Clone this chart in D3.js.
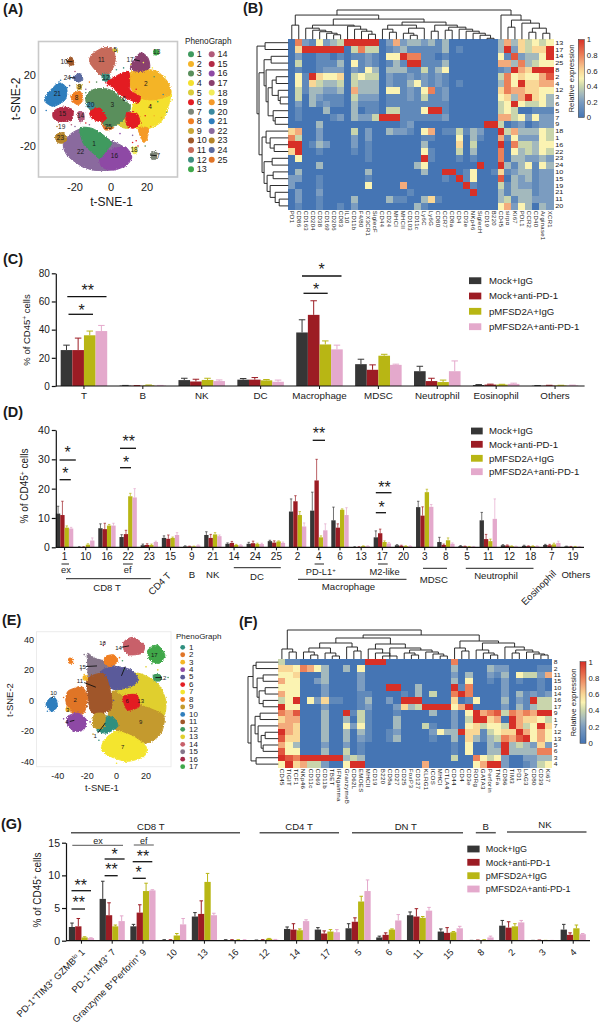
<!DOCTYPE html>
<html>
<head>
<meta charset="utf-8">
<script src="https://cdn.jsdelivr.net/npm/d3@7"></script>
<style>
  html, body { margin: 0; padding: 0; background: #fff; }
  text { font-family: "Liberation Sans", Arial, sans-serif; fill: #1a1a1a; }
  .domain, .tick line { stroke: #111; }
</style>
</head>
<body>
<svg id="fig" width="600" height="1028"></svg>
<script>
var seriesNames = ["Mock+IgG", "Mock+anti-PD-1", "pMFSD2A+IgG", "pMFSD2A+anti-PD-1"];
var seriesColors = ["#363636", "#9c1c24", "#b8b614", "#e4a9cc"];

// panel C
var catsC = ["T", "B", "NK", "DC", "Macrophage", "MDSC", "Neutrophil", "Eosinophil", "Others"];
var valsC = [
  [25.5, 0.3, 4.2, 4.5, 38, 15.5, 10.5, 0.7, 0.2],
  [25.5, 0.2, 3.2, 4.5, 50.5, 11.5, 3.5, 1, 0.3],
  [36, 0.5, 4.3, 4, 29.5, 21.5, 2.8, 1, 0.4],
  [39, 0.3, 3.5, 3, 26, 15, 10.5, 1.5, 0.4]
];
var errC = [
  [29, 0.4, 5.5, 5.3, 47, 19, 14, 1, 0.3],
  [34, 0.3, 4.8, 6, 60.5, 15, 5.5, 1.3, 0.5],
  [39, 0.7, 5.5, 4.6, 32, 22.5, 4.2, 1.2, 0.5],
  [43, 0.4, 4.3, 4.2, 29, 15.5, 17.8, 2, 0.6]
];

// panel D
var catsD = ["1", "10", "16", "22", "23", "15", "9", "21", "14", "24", "25", "2", "4", "6", "13", "17", "20", "3", "8", "5", "11", "12", "18", "7", "19"];
var valsD = [
  [11.5, 0.1, 6.5, 3.5, 0.7, 3.2, 0.3, 4.2, 1.2, 1.2, 2.1, 12.2, 12.5, 9.2, 0.1, 3.4, 0.7, 13.7, 1.8, 0.4, 9.2, 0.7, 0.5, 0.8, 0.3],
  [11, 0.1, 6.2, 4.5, 0.8, 2.9, 0.3, 3.2, 1.5, 1.4, 1.6, 15.7, 22.8, 6.7, 0.1, 4.8, 0.5, 10.8, 0.8, 0.3, 2.8, 0.6, 0.4, 0.7, 0.2],
  [6.7, 0.9, 7.4, 17.4, 0.8, 3.2, 0.3, 4.4, 0.8, 1.1, 2, 11, 3.4, 12.8, 0.4, 1.8, 0.4, 18.8, 2.4, 0.2, 2.1, 0.4, 0.4, 1, 0.2],
  [6.4, 2.3, 7.4, 17, 1.8, 4.2, 0.6, 3.8, 0.7, 1.1, 1.5, 7.1, 5.8, 11, 0.4, 1.3, 0.4, 13.8, 1.2, 0.2, 9.7, 0.3, 0.4, 1.5, 0.2]
];
var errD = [
  [14, 0.2, 8, 4.3, 1.1, 3.9, 0.5, 5.3, 1.5, 1.7, 2.4, 16.5, 18.8, 13.7, 0.2, 5.6, 0.9, 15.7, 3.4, 0.6, 11.9, 0.9, 0.7, 1, 0.4],
  [15.7, 0.2, 8.2, 5.8, 1.2, 4.2, 0.4, 4.4, 2, 2.1, 2.2, 17.6, 30, 8, 0.2, 6.2, 0.7, 13.8, 1.1, 0.4, 4.4, 0.8, 0.5, 1, 0.3],
  [7.3, 1.2, 7.8, 18.4, 1.1, 3.5, 0.4, 5, 1, 1.4, 2.2, 12.2, 3.9, 13.1, 0.5, 2.2, 0.5, 19.8, 3.2, 0.3, 2.8, 0.5, 0.5, 1.4, 0.3],
  [6.8, 3.2, 8.2, 20, 2.1, 5, 0.8, 4.2, 0.9, 1.4, 1.8, 8.3, 8, 13.5, 0.5, 1.6, 0.5, 14.6, 1.5, 0.3, 16.5, 0.4, 0.5, 2.1, 0.3]
];

// panel G
var catsG = ["1", "7", "9", "10", "13", "16", "12", "14", "17", "5", "6", "11", "15", "8", "2", "3", "4"];
var valsG = [
  [2.1, 6.4, 2.2, 0.1, 3.7, 0.1, 0.05, 1.8, 1.7, 1.9, 0.5, 3.9, 1.4, 0.02, 2.3, 0.02, 1.7],
  [2.2, 3.9, 4.3, 0.1, 4.1, 0.1, 0.1, 1.7, 1.1, 2.9, 0.9, 3.7, 1.2, 0.05, 2, 0.05, 0.9],
  [0.5, 2.2, 7.6, 0.8, 9, 0.1, 0.3, 1.6, 1.4, 6, 1.7, 3.5, 1.3, 0.1, 2.2, 0.03, 1.9],
  [0.4, 3, 7.7, 2.5, 3.9, 0.1, 0.15, 3, 1.3, 7.6, 3.1, 4.6, 1.9, 0.5, 2.8, 0.03, 1]
];
var errG = [
  [2.7, 9.1, 2.5, 0.15, 4.3, 0.15, 0.1, 2.1, 2, 2.6, 0.7, 4.4, 1.8, 0.05, 3.1, 0.05, 2.5],
  [3.4, 5.8, 5.5, 0.15, 6.1, 0.15, 0.15, 2.6, 1.5, 3.5, 1.2, 4.9, 2, 0.1, 2.9, 0.1, 1.2],
  [0.6, 2.4, 8.8, 1.1, 10.3, 0.15, 0.35, 1.8, 1.7, 6.8, 1.8, 3.7, 1.4, 0.15, 2.6, 0.05, 2.4],
  [0.45, 3.8, 7.8, 3.4, 4.2, 0.15, 0.2, 3.2, 1.7, 9.3, 4, 5.1, 2.2, 0.7, 3.1, 0.05, 1.1]
];
var longLabelsG = {
  "1": "PD-1<tspan dy='-3' font-size='6'>+</tspan><tspan dy='3'>TIM3</tspan><tspan dy='-3' font-size='6'>+</tspan><tspan dy='3'> GZMB</tspan><tspan dy='-3' font-size='6'>lo</tspan><tspan dy='3'> 1</tspan>",
  "7": "PD-1<tspan dy='-3' font-size='6'>+</tspan><tspan dy='3'>TIM3</tspan><tspan dy='-3' font-size='6'>+</tspan><tspan dy='3'> 7</tspan>",
  "9": "Granzyme B<tspan dy='-3' font-size='6'>+</tspan><tspan dy='3'>Perforin</tspan><tspan dy='-3' font-size='6'>+</tspan><tspan dy='3'> 9</tspan>"
};

// panel B heatmap, tenths of relative expression
var colsB = ["PD1", "CD86", "CD163", "CD204", "CD38", "CD169", "CD206", "CD83", "IL10", "CD11b", "F4/80", "CX3CR1", "SiglecF", "CD44", "CD24", "MHCI", "MHCII", "CD103", "CD11c", "Ly6C", "Ly6G", "CD80", "CCR7", "CD8a", "CD4", "CD3e", "NKp46", "SiglecH", "CD19", "B220", "CD45", "sirpα", "Ki67", "PDL1", "CCR2", "CD40", "Arginase1", "XCR1"];
var rowsB = ["13", "17", "14", "25", "8", "2", "4", "12", "3", "6", "5", "7", "9", "18", "1", "16", "22", "23", "24", "10", "15", "19", "21", "11", "20"];
var heatB = [
  [0,8,2,1,5,2,3,4,10,10,10,10,10,0,2,7,2,3,3,2,3,1,3,0,0,0,0,0,0,0,3,7,3,6,4,5,4,5],
  [0,6,10,10,10,10,10,10,0,4,8,4,4,0,1,2,3,1,1,1,1,1,3,0,1,0,0,0,0,0,3,10,2,6,4,6,6,10],
  [0,2,0,0,1,1,0,1,0,1,1,2,1,0,5,5,10,8,8,1,1,0,1,0,0,0,0,0,0,0,5,1,9,2,3,3,5,10],
  [0,4,0,0,1,1,1,3,0,5,1,2,1,0,1,3,1,10,10,1,1,1,3,0,0,0,0,0,0,0,7,7,3,8,3,4,5,5],
  [0,1,0,0,1,2,2,2,0,2,1,5,3,0,3,3,3,1,1,4,1,3,5,0,0,0,0,0,0,0,1,2,10,7,6,10,10,10],
  [0,5,1,10,6,5,5,6,0,4,5,4,4,0,2,1,1,2,1,2,1,2,1,0,0,0,0,0,0,0,4,8,5,6,5,5,7,9],
  [0,5,1,6,4,3,3,4,0,4,3,3,3,0,2,1,1,3,5,2,1,2,1,0,1,0,0,0,0,0,3,8,5,10,6,6,7,7],
  [0,4,1,3,3,2,2,3,0,7,3,3,3,0,5,5,1,2,1,5,8,1,2,0,0,0,0,0,0,0,6,8,7,7,6,6,5,5],
  [0,4,0,3,2,1,1,1,0,4,2,2,2,0,1,1,1,2,1,4,1,1,2,0,0,0,0,0,0,0,5,6,3,7,10,6,5,3],
  [0,2,0,3,1,2,1,1,0,3,1,1,1,0,1,1,1,1,1,1,1,1,1,0,0,0,0,0,0,0,4,5,10,5,4,4,5,3],
  [0,1,0,0,0,3,0,0,0,3,0,1,1,0,4,4,1,1,1,5,10,10,1,0,0,0,0,0,0,0,4,5,4,0,0,1,1,1],
  [0,1,0,0,0,0,1,2,0,3,2,2,4,10,10,10,1,1,1,1,1,1,2,0,0,0,0,0,0,0,7,7,4,5,2,5,2,2],
  [0,0,0,0,3,0,0,0,0,0,0,0,0,0,0,0,1,2,0,0,0,0,0,0,0,0,0,0,10,10,4,0,1,2,0,1,2,2],
  [6,7,0,0,2,0,0,0,0,4,0,2,0,0,3,2,2,1,0,5,7,0,1,1,4,1,3,2,0,0,10,4,7,3,3,3,5,4],
  [8,4,0,0,2,0,0,0,0,2,0,2,0,0,0,0,0,0,0,1,1,0,0,0,5,0,3,1,0,0,7,1,5,2,2,2,5,4],
  [10,10,0,1,3,2,0,0,0,2,0,1,0,0,0,0,0,0,0,3,0,0,0,0,6,0,4,0,0,0,10,0,8,4,4,3,5,5],
  [6,10,0,0,1,0,0,0,0,1,0,1,0,0,0,0,0,0,0,5,1,0,0,0,4,0,3,0,0,0,8,0,5,3,4,3,5,4],
  [0,5,0,0,0,0,0,0,0,0,0,1,0,0,0,0,0,0,0,10,1,0,0,0,1,0,1,0,0,0,8,0,3,3,2,2,3,2],
  [0,0,0,0,3,0,0,0,0,0,0,0,0,0,0,0,0,0,3,5,0,0,0,0,0,0,0,10,0,0,10,3,1,3,5,1,5,3],
  [0,3,0,0,0,0,0,0,0,0,0,3,0,0,0,0,0,0,0,3,0,0,10,10,0,1,5,0,0,1,6,1,2,3,3,1,2,2],
  [2,2,0,0,1,0,0,0,0,0,0,1,0,0,0,0,0,0,0,0,0,0,1,0,10,1,5,0,0,0,9,0,3,2,3,1,2,2],
  [2,0,0,0,1,0,0,0,0,0,0,5,0,0,0,0,7,0,0,0,0,0,0,0,0,10,1,0,0,0,4,1,3,2,2,1,2,2],
  [0,2,0,0,2,0,0,0,0,0,0,0,0,0,0,0,0,1,0,0,0,0,0,0,0,0,10,0,0,0,3,1,3,3,3,1,2,2],
  [0,2,0,0,1,0,0,0,0,3,0,0,0,0,3,1,1,0,0,3,6,1,0,0,0,0,0,0,0,0,3,4,1,3,3,2,2,2],
  [0,1,0,0,1,0,0,1,0,2,0,0,0,0,0,0,0,0,3,1,0,0,0,0,0,0,0,0,0,0,5,7,2,5,3,0,3,2]
];
// dendrograms: [height, left, right], a number is a leaf index
var treeBTop = [29,
  [24, [14, 0, 1],
    [20,
      [14, [11, 2, [9, 3, [7.5, 4, [6, 5, [4.5, 6, 7]]]]], [13, 8, [10, 9, [8, 10, [5, 11, 12]]]]],
      [17,
        [14, [10, 13, [7, 14, 15]], [11, [6, 16, [4, 17, 18]], 19]],
        [14, [8, 20, 21], [12, [9, 22, 23], [10, 24, [8, 25, [6, 26, [4, 27, [1, 28, 29]]]]]]]]]],
  [24, 30, [19, [12, 31, 32], [16, 33, [11, [7, 34, 35], [6, 36, 37]]]]]];
var treeBLeft = [31, [23, 0, 1],
  [29,
    [24, [17, 2, 3], [22, 4, [20, [16, [12, 5, 6], [10, 7, [8, 8, 9]]], [15, 10, [13, 11, 12]]]]],
    [26, [22, 13, [18, 14, [14, 15, 16]]], [24, [16, 17, 18], [21, [15, 19, 20], [18, 21, [13, 22, [9, 23, 24]]]]]]]];

// panel F heatmap
var colsF = ["CD45", "TIGIT", "TCF1", "NKp46", "CD11c", "CD69", "CD11b", "TBET", "IFNgamma", "GranzymeB", "CD62L", "EMOES", "MHCII", "CD19", "B220", "CD8a", "CD27", "CD25", "FoxP3", "CD127", "KLRG1", "ICOS", "MHCI", "CTLA4", "CD44", "CD4", "CD3e", "RORg", "GATA3", "Perforin", "TNFa", "CD86", "TIM3", "PD1", "LAG3", "CD80", "CD39", "Ki67"];
var rowsF = ["8", "2", "11", "15", "10", "14", "16", "17", "9", "1", "7", "12", "13", "5", "6", "3", "4"];
var heatF = [
  [4,1,1,0,0,0,0,0,0,0,0,0,10,10,10,0,0,0,0,0,0,0,0,0,8,0,0,0,0,0,0,0,0,0,0,0,0,0],
  [6,6,5,8,7,5,3,0,0,3,0,5,0,0,0,0,0,0,0,0,0,0,0,0,3,0,0,0,0,3,2,2,0,0,0,0,1,1],
  [5,5,6,0,0,0,3,0,0,0,0,2,0,0,0,0,0,0,0,0,0,0,0,0,2,0,3,0,0,2,1,3,0,5,4,4,2,7],
  [7,5,5,0,0,2,3,0,0,0,0,2,0,0,0,0,0,0,0,0,0,0,0,0,3,0,5,0,0,1,0,2,0,1,0,0,1,0],
  [5,5,5,0,0,0,2,0,0,0,0,2,0,0,0,10,10,0,0,3,0,0,0,0,10,1,8,0,0,0,0,2,0,0,0,0,1,0],
  [7,5,5,0,0,0,2,0,0,0,0,1,1,0,0,0,0,1,0,3,0,4,0,0,8,10,8,0,0,0,0,2,0,3,1,2,1,2],
  [4,5,10,0,5,2,6,1,1,0,0,1,3,0,0,2,0,10,10,10,0,0,0,0,6,0,1,5,0,0,0,3,0,2,1,10,4,4],
  [10,5,5,0,0,0,2,0,0,0,0,1,2,0,0,0,2,6,3,4,10,10,10,10,5,7,10,0,0,0,0,2,0,3,1,3,4,4],
  [8,7,9,0,0,0,3,0,0,10,1,4,1,0,0,0,1,0,0,0,0,3,0,0,2,0,5,10,7,8,9,4,8,7,8,7,10,10],
  [6,7,7,0,0,0,3,0,0,3,0,4,1,0,0,0,3,0,0,0,0,0,0,0,2,0,4,10,10,6,7,0,10,7,6,6,5,4],
  [7,7,6,0,0,0,3,0,0,5,2,5,1,0,0,0,3,0,0,0,4,1,0,0,2,0,5,6,4,5,5,4,10,7,4,5,10,6],
  [10,7,6,0,0,0,3,0,0,3,0,3,1,0,0,1,2,0,0,0,0,2,5,3,3,10,6,6,1,4,5,6,6,10,7,5,7,5],
  [9,6,6,0,0,0,3,0,0,3,0,2,1,0,0,1,3,0,0,0,0,1,0,0,3,0,6,3,1,3,4,8,7,9,10,5,7,5],
  [7,5,3,0,0,0,2,0,0,2,0,1,0,0,0,0,0,0,0,0,0,0,0,0,1,0,5,0,0,3,2,10,3,4,3,2,6,2],
  [9,5,5,0,0,0,3,0,0,4,0,1,0,0,0,0,0,0,0,0,0,0,0,0,1,0,5,0,0,3,3,10,3,3,3,3,8,8],
  [10,9,8,10,10,10,10,10,10,3,4,3,0,0,0,0,0,0,0,0,0,0,0,0,4,0,0,8,5,4,5,2,0,0,2,2,3,3],
  [5,10,6,7,4,4,2,0,0,5,10,10,0,0,0,0,0,0,0,0,7,0,0,0,0,0,0,5,7,10,10,2,0,0,1,2,4,5]
];
var treeFTop = [29,
  [10, 0, [7, 1, 2]],
  [24,
    [21,
      [16, [11, [7, 3, [4, 4, 5]], [6, 6, [3, 7, 8]]], [12, 9, [8, 10, 11]]],
      [15, [10, 12, [6, 13, [3, 14, 16]]], [11, 15, [9, [6, 17, [4, 18, 19]], [7, 20, [5, 21, [3, 22, 23]]]]]]],
    [18,
      [11, 24, [8, 25, 26]],
      [16, [9, 27, [6, 28, [4, 29, 30]]], [12, 31, [9, [6, 32, 33], [7, 34, [5, 35, [4, 36, 37]]]]]]]]];
var treeFLeft = [30,
  [25, [22, 0, 1], [21, [15, 2, 3], [19, [13, 4, 5], [15, 6, 7]]]],
  [27, [23, [18, 8, 9], [20, 10, [17, [13, 11, 12], [15, 13, 14]]]], [22, 15, 16]]];

// panel A t-SNE
var phenoColorsA = ["#3f9a5f", "#f4b428", "#5a8f5c", "#f4e02e", "#d9cc3a", "#e31e24", "#7d8678", "#f07f22", "#c9a636", "#a0592a", "#c66a5a", "#3e8f80", "#3fa84a", "#b05a7a", "#b22a45", "#8e4aa5", "#8a3f6e", "#f2ec5a", "#f59a28", "#3a8aa0", "#2f7ebd", "#8a6a9e", "#b5842a", "#5a6aa0", "#e07427"];
var ticksA = [-20, 0, 20];
// cluster id, then the outline in t-SNE units
var shapesA = [
  [22, [[-15.4,-10],[-21.9,-12.8],[-26.5,-18.5],[-24.6,-25],[-17.2,-30.8],[-9.8,-33.6],[-0.6,-33.6],[6.9,-30.8],[10.6,-26],[6.9,-20.4],[-0.6,-16.6],[-8,-11.9]]],
  [16, [[-6.1,-26],[-0.6,-22.3],[7.8,-20.4],[11.5,-26],[8.7,-30.8],[1.3,-33.6],[-5.2,-31.7]]],
  [1, [[-17.2,-10],[-10.7,-10],[-4.3,-13.8],[0.4,-18.5],[-2.4,-22.3],[-6.1,-27],[-9.8,-24.2],[-15.4,-18.5]]],
  [25, [[-5.2,-6.2],[-0.6,-7.2],[1.3,-10],[-3.3,-10.9]]],
  [5, [[4,-5],[10,-5],[10,-10],[5,-9]]],
  [4, [[16.1,7],[25.4,7.9],[33.1,11.7],[31.9,2.3],[27.2,-7],[18,-10.9],[12,-8],[12,2.3]]],
  [2, [[9.6,20.2],[16.1,23],[25.4,22.1],[31.9,15.5],[32.8,8.9],[23.5,6],[16.1,7],[11.5,11.7]]],
  [3, [[-13.5,8.9],[-8.9,12.1],[-0.6,11.7],[6.9,6],[10.9,2.3],[8.7,-3.4],[3.1,-8.1],[-2.4,-9.1],[-6.1,-5.3],[-11.7,0.4],[-13.9,5.1]]],
  [6, [[-0.6,17.4],[9.6,22.1],[10.6,11.7],[16.1,7.9],[15.2,4.2],[10.6,6],[5,8.9],[1.3,12.7],[-2.4,15.5]]],
  [6, [[-11.7,-0.6],[-6.1,1.3],[-2.4,-4.3],[-6.1,-6.2],[-10.7,-4.3]]],
  [6, [[8.7,-1.5],[14.3,-1.5],[16.1,-7],[12.4,-10],[8.7,-8.1]]],
  [19, [[15.2,-10],[20.7,-10],[19.8,-16.6],[17.6,-17.6]]],
  [11, [[-10.7,31.5],[-4.3,35.3],[1.3,34.3],[2.2,26.8],[-1.5,20.2],[-6.1,20.2],[-11.7,26.8]]],
  [12, [[-5.2,20.2],[-0.9,20.2],[-0.9,17.4],[-3.9,16.4]]],
  [17, [[10.6,24],[16.1,32.5],[20.5,29.7],[21.4,24],[16.1,22]]],
  [21, [[-35.7,8.9],[-29.2,15.5],[-24.6,12.7],[-25.5,6],[-32,2.3],[-36.7,5.1]]],
  [15, [[-32,-0.6],[-27.4,1.9],[-21.3,0.4],[-21.9,-5.3],[-28.4,-6.2],[-32,-4.3]]],
  [8, [[-22.2,8.9],[-17.2,10.8],[-15.7,6],[-18.1,3.2],[-21.3,5.1]]],
  [14, [[-18.5,-1.1],[-15.4,-0.9],[-15,-5.3],[-17.6,-6.2]]],
  [24, [[-20.9,19.2],[-17.2,20.8],[-15.7,17.4],[-19.1,15.8]]],
  [10, [[-24.1,28.7],[-21.9,30.2],[-20.6,25.8],[-23.7,25.8]]],
  [23, [[-30.6,-13.8],[-26.5,-12.5],[-24.6,-16.6],[-27.4,-18.5],[-30.2,-17.5]]],
  [7, [[22,-24.2],[25,-23.2],[25.7,-27],[22.6,-27.5]]],
  [18, [[11.8,-20.8],[14.3,-20.4],[14.3,-23.8],[12.3,-24.2]]],
  [5, [[1.3,34.7],[3.5,34.3],[3.5,33.2],[1.3,33.4]]],
  [13, [[23.9,34],[26.3,34],[26.3,31.5],[23.9,31.5]]],
  [9, [[-18.7,14.5],[-16.3,14.5],[-16.7,12.1],[-18.7,12.1]]],
  [20, [[-13.1,4.2],[-9.8,4.2],[-9.8,1.3],[-13.1,1.9]]]
];
var specksA = [[-14,10,3],[-20,-9,22],[-12,-8,22],[5,-13,16],[12,-14,22],[14,-17,6],[15,-20,6],[24,-3,2],[28,-4,2],[31,-1,3],[26,5,13],[29,9,20],[22,3,6],[19,-3,6],[24,19,3],[30,19,4],[7,24,12],[11,26,5],[-8,16,3],[-12,16,8],[-14,12,22],[-23,14,24],[-20,22,14],[-28,17,21],[-36,0,21],[-30,-9,23],[-22,-8,14],[-14,-7,6],[18,27,18],[23,24,18],[-2,14,6],[3,23,12],[14,12,6],[34,6,4],[22,-9,19],[19,-20,3],[12,-18,6]];
var labelsA = [["1",-9.4,-18.9],["22",-16.9,-23.4],["16",1.9,-25.5],["3",0.7,3],["2",19.4,14.9],["4",21.7,1.9],["6",7.2,6.8],["11",-5.4,28.9],["12",-2.8,18.7],["5",2.4,34],["17",10.6,28.7],["13",25.4,33],["10",-26.1,27.7],["24",-24.3,18.7],["9",-17.6,13.6],["21",-29.8,9.4],["8",-19.1,7],["20",-11.3,3.2],["15",-27,-1.9],["14",-16.9,-3.2],["25",-1.5,-9.1],["19",-27.4,-9.4],["23",-28.1,-15.5],["18",12.8,-22.3],["7",26.3,-25.5]];
var arrowsA = [[-24.6,27.7,-21.3,27.5],[-23.1,18.7,-19.8,18.3],[12.8,28.7,16.1,27.9],[25.4,-25.5,22,-25.1]];

// panel E t-SNE
var phenoColorsE = ["#2f8f7f", "#e07427", "#f5b625", "#8e4aa5", "#5a5a9a", "#e31e24", "#f4e52e", "#f07f22", "#c49a2d", "#2f7ebd", "#a0562a", "#3f9a5f", "#e0cf2d", "#c8606a", "#85758a", "#a52a4a", "#3fa84a"];
var ticksEx = [-40, -20, 0, 20];
var ticksEy = [-40, -20, 0, 20, 40];
var shapesE = [
  [13, [[-0.5,15.7],[14.9,17.8],[27.7,11.3],[33.3,0.4],[31.5,-10.4],[14.9,-6.1],[9.7,-1.7],[-0.5,2.6]]],
  [9, [[-3,6],[9.7,-0.7],[25.1,-6.1],[32.3,-10.4],[30.3,-21.3],[21.3,-27.8],[9.7,-25.7],[-0.5,-19.1],[-5.6,-12.6]]],
  [7, [[-8.2,-25.7],[-0.5,-20.2],[11,-23.5],[20,-30],[18.7,-36.5],[7.2,-39.8],[-4.4,-36.5],[-10.3,-32.2]]],
  [15, [[-19.7,30.9],[-14.6,27.6],[-3.1,24.3],[0.8,20],[-9.5,17.8],[-14.6,13.5],[-19,15.7],[-19.7,24.3]]],
  [5, [[-9.5,20],[-0.5,22.2],[9.7,20],[14.9,13.5],[9.7,9.1],[-0.5,7],[-8.2,10.2],[-12.1,14.6]]],
  [11, [[-19.7,14.6],[-9.5,17.8],[-5.6,11.3],[-3.1,0.4],[-4.4,-6.1],[-13.3,-9.3],[-17.9,-6.1],[-19.7,4.8]]],
  [1, [[-8.7,-10.4],[-1.8,-11.5],[0.8,-17],[-6.9,-21.3],[-13.3,-19.1]]],
  [9, [[-15,-9],[-8,-9],[-9,-18],[-16,-17]]],
  [2, [[-28.7,8],[-23.6,9.1],[-19.7,2.6],[-22.3,-8.3],[-30,-8.3],[-34.4,-0.7],[-33.3,5.8]]],
  [4, [[-33.3,-10.4],[-26.2,-8.3],[-20.5,-12.6],[-22.3,-19.1],[-28.7,-20.2],[-33.3,-15.9]]],
  [10, [[-45.4,1.5],[-41.5,1.5],[-40.3,-3.9],[-44.1,-7.2],[-47.9,-2.8]]],
  [14, [[5.1,38.5],[11,41.3],[18.7,36.3],[17.4,30.9],[8.5,29.8],[5.1,33]]],
  [17, [[21.3,33],[27.7,36.3],[32.8,29.8],[29,24.3],[22.6,26.5]]],
  [8, [[-7.7,28.7],[-1.8,29.8],[0.8,25.4],[-4.4,22.2],[-8.2,24.3]]],
  [12, [[25.1,16.7],[29.7,16.7],[29.7,13],[25.6,13]]],
  [6, [[4.6,2.6],[13.6,3.7],[15.4,-3.9],[7.2,-6.1]]],
  [3, [[-22.5,16],[-20,16],[-20,13.5],[-22.5,13.5]]],
  [3, [[-34.2,-4.8],[-32,-4.8],[-32,-7],[-34.2,-7]]],
  [8, [[-32.5,27.5],[-30,27.5],[-30,24.5],[-32.5,24.5]]]
];
var specksE = [[-22,30,15],[-24,20,15],[-22,17,3],[-9,36,16],[-8,38,16],[2,28,8],[4,26,12],[5,20,12],[20,22,13],[28,20,13],[24,24,17],[35,15,12],[33,-3,13],[33,-14,9],[25,-26,9],[18,-28,7],[0,-41,7],[-12,-26,1],[-16,-22,9],[-18,-14,4],[-36,-12,4],[-36,2,2],[-47,-7,10],[-20,-4,11],[14,-2,6],[9,3,6],[11,0,6],[6,-3,6],[-2,0,5]];
var labelsE = [["10",-42.8,4.8],["2",-28.2,0.4],["3",-33.3,-5.7],["4",-33.8,-14.1],["11",-24.9,13],["15",-23.1,22.2],["16",-9.5,37.8],["14",1.3,34.8],["17",25.6,30],["12",31.5,15],["13",16.4,0],["6",7.2,0],["9",16.4,-13.7],["7",4.1,-30],["1",-14.6,-22.8]];
var arrowsE = [[-21,22.2,-13.3,22.6],[-22,11.7,-14.1,8.7],[-12.8,-21.3,-7.7,-14.8],[3.3,16.1,5.9,22.2],[3.3,34.8,8.5,35.7],[30.8,15,26.4,15],[-31.8,-13.7,-28.7,-13],[-44.1,1.5,-42.8,3]];

var heatStops = [0, 2, 3, 4, 5, 6, 7, 8, 10];
var heatColors = ["#4575b4", "#7b9cc0", "#a3b9bd", "#c9d5ac", "#fbf3b2", "#f9d796", "#f3ab7c", "#ec8059", "#d73027"];
var colorbarTicks = [0, 0.2, 0.4, 0.6, 0.8, 1];
var heatColor = d3.scaleLinear().domain(heatStops).range(heatColors);

var svg = d3.select("#fig");
var defs = svg.append("defs");

var rough = defs.append("filter").attr("id", "rough")
  .attr("x", "-5%").attr("y", "-5%").attr("width", "110%").attr("height", "110%");
rough.append("feTurbulence").attr("type", "fractalNoise").attr("baseFrequency", 0.8)
  .attr("numOctaves", 2).attr("seed", 4).attr("result", "n");
rough.append("feDisplacementMap").attr("in", "SourceGraphic").attr("in2", "n")
  .attr("scale", 3).attr("xChannelSelector", "R").attr("yChannelSelector", "G");

function panelLabel(t, x, y) {
  svg.append("text").attr("x", x).attr("y", y).attr("font-size", 14.5)
    .attr("font-weight", "bold").attr("fill", "#111").text(t);
}
panelLabel("(A)", 3, 14);
panelLabel("(B)", 243, 13);
panelLabel("(C)", 3, 264);
panelLabel("(D)", 3, 417);
panelLabel("(E)", 2, 625);
panelLabel("(F)", 239, 627);
panelLabel("(G)", 1, 829);

function plainText(t, x, y, size, anchor, rotate) {
  var n = svg.append("text").attr("font-size", size).attr("text-anchor", anchor || "middle").html(t);
  if (rotate) n.attr("transform", "translate(" + x + "," + y + ") rotate(" + rotate + ")");
  else n.attr("x", x).attr("y", y);
  return n;
}
function hline(x1, x2, y, w, color) {
  svg.append("line").attr("x1", x1).attr("x2", x2).attr("y1", y).attr("y2", y)
    .attr("stroke", color || "#222").attr("stroke-width", w || 1.2);
}
function sig(x1, x2, y, stars, sx, sy) {
  hline(x1, x2, y, 1.3, "#111");
  svg.append("text").attr("x", sx).attr("y", sy + 6.5).attr("text-anchor", "middle")
    .attr("font-size", 16).attr("fill", "#111").text(stars);
}

function tsne(o) {
  var x = d3.scaleLinear().domain(o.xDom).range(o.xRange);
  var y = d3.scaleLinear().domain(o.yDom).range(o.yRange);
  var g = svg.append("g");
  g.append("rect").attr("x", o.box[0]).attr("y", o.box[1]).attr("width", o.box[2]).attr("height", o.box[3])
    .attr("fill", "#fff").attr("stroke", o.boxColor).attr("stroke-width", o.boxWidth);
  var line = d3.line().x(function (d) { return x(d[0]); }).y(function (d) { return y(d[1]); })
    .curve(d3.curveCardinalClosed.tension(0.25));
  var blobs = g.append("g").attr("filter", "url(#rough)");
  blobs.selectAll("path").data(o.shapes).enter().append("path")
    .attr("d", function (d) { return line(d[1]); })
    .attr("fill", function (d) { return o.colors[d[0] - 1]; })
    .attr("stroke", function (d) { return o.colors[d[0] - 1]; })
    .attr("stroke-width", 1);
  g.selectAll("circle.speck").data(o.specks).enter().append("circle").attr("class", "speck")
    .attr("cx", function (d) { return x(d[0]); }).attr("cy", function (d) { return y(d[1]); })
    .attr("r", 0.8).attr("fill", function (d) { return o.colors[d[2] - 1]; });
  g.selectAll("line.arrow").data(o.arrows).enter().append("line").attr("class", "arrow")
    .attr("x1", function (d) { return x(d[0]); }).attr("y1", function (d) { return y(d[1]); })
    .attr("x2", function (d) { return x(d[2]); }).attr("y2", function (d) { return y(d[3]); })
    .attr("stroke", "#111").attr("stroke-width", 0.9);
  g.selectAll("text.cl").data(o.labels).enter().append("text").attr("class", "cl")
    .attr("x", function (d) { return x(d[1]); }).attr("y", function (d) { return y(d[2]) + 2.3; })
    .attr("text-anchor", "middle").attr("font-size", o.labelSize).text(function (d) { return d[0]; });
  g.append("g").attr("transform", "translate(0," + o.box[1] + ")")
    .selectAll("text").data(o.xTicks).enter().append("text")
    .attr("x", function (d) { return x(d); }).attr("y", o.box[3] + o.xTickGap)
    .attr("text-anchor", "middle").attr("font-size", o.tickSize).text(function (d) { return d; });
  g.append("g").selectAll("text").data(o.yTicks).enter().append("text")
    .attr("x", o.box[0] - 2.5).attr("y", function (d) { return y(d) + o.tickSize * 0.36; })
    .attr("text-anchor", "end").attr("font-size", o.tickSize).text(function (d) { return d; });
  plainText("t-SNE-1", o.xTitle[0], o.xTitle[1], o.titleSize);
  plainText("t-SNE-2", o.yTitle[0], o.yTitle[1], o.titleSize, "middle", -90);
}

tsne({
  xDom: [-20, 20], xRange: [75, 147], yDom: [-20, 20], yRange: [146, 75],
  box: [38.5, 41.5, 139, 135.5], boxColor: "#c9c9c9", boxWidth: 1.6,
  shapes: shapesA, specks: specksA, labels: labelsA, arrows: arrowsA, colors: phenoColorsA,
  xTicks: ticksA, yTicks: ticksA, xTickGap: 13.5, tickSize: 11, labelSize: 6.5,
  xTitle: [111.5, 206], yTitle: [20, 99], titleSize: 12
});
tsne({
  xDom: [-40, 20], xRange: [57.7, 146], yDom: [-40, 40], yRange: [761.7, 639.3],
  box: [36.5, 631.7, 134.5, 135], boxColor: "#ececec", boxWidth: 1,
  shapes: shapesE, specks: specksE, labels: labelsE, arrows: arrowsE, colors: phenoColorsE,
  xTicks: ticksEx, yTicks: ticksEy, xTickGap: 12, tickSize: 9, labelSize: 6,
  xTitle: [102, 790.5], yTitle: [13, 700], titleSize: 9.5
});

function phenoLegend(colors, titleX, titleY, titleSize, dotX, textX, topY, step, perCol, colGap, r, size, stretch) {
  plainText("PhenoGraph", titleX, titleY, titleSize, "start");
  var g = svg.append("g");
  var items = g.selectAll("g").data(colors).enter().append("g")
    .attr("transform", function (d, i) {
      var col = Math.floor(i / perCol);
      return "translate(" + (col * colGap) + "," + (topY + (i % perCol) * step) + ")";
    });
  items.append("circle").attr("cx", dotX).attr("r", r).attr("fill", function (d) { return d; });
  items.append("text")
    .attr("transform", "translate(" + textX + "," + (size * 0.36) + ") scale(" + stretch + ",1)")
    .attr("font-size", size)
    .text(function (d, i) { return i + 1; });
}
phenoLegend(phenoColorsA, 185, 44, 8.2, 191, 196.7, 54.3, 9.58, 13, 20.7, 3, 8.2, 1.1);
phenoLegend(phenoColorsE, 176, 639, 8, 182.7, 189, 647.3, 7.46, 17, 0, 2.4, 6.4, 1.25);

function drawTree(g, node, pos, hs, horizontal) {
  if (typeof node === "number") return { p: pos(node), h: 0 };
  var a = drawTree(g, node[1], pos, hs, horizontal);
  var b = drawTree(g, node[2], pos, hs, horizontal);
  var h = hs(node[0]);
  var d = horizontal
    ? "M" + hs(a.h) + "," + a.p + "H" + h + "V" + b.p + "H" + hs(b.h)
    : "M" + a.p + "," + hs(a.h) + "V" + h + "H" + b.p + "V" + hs(b.h);
  g.append("path").attr("d", d).attr("fill", "none").attr("stroke", "#222").attr("stroke-width", 0.95);
  return { p: (a.p + b.p) / 2, h: node[0] };
}

function heatmap(o) {
  var x = d3.scaleBand().domain(d3.range(o.cols.length)).range([o.x0, o.x1]);
  var y = d3.scaleBand().domain(d3.range(o.rows.length)).range([o.y0, o.y1]);
  var g = svg.append("g");
  g.selectAll("g").data(o.values).enter().append("g")
    .selectAll("rect").data(function (d, i) { return d.map(function (v, j) { return { v: v, i: i, j: j }; }); })
    .enter().append("rect")
    .attr("shape-rendering", "crispEdges")
    .attr("x", function (d) { return x(d.j); }).attr("y", function (d) { return y(d.i); })
    .attr("width", x.bandwidth() + 0.5).attr("height", y.bandwidth() + 0.5)
    .attr("fill", function (d) { return heatColor(d.v); });
  // thin type with a little tracking so the tall labels keep their length without touching
  g.selectAll("text.col").data(o.cols).enter().append("text").attr("class", "col")
    .attr("transform", function (d, i) { return "translate(" + (x(i) + x.bandwidth() / 2 - 2.1) + "," + (o.y1 + 1.5) + ") rotate(90)"; })
    .attr("font-size", o.colSize).attr("letter-spacing", 0.35).text(function (d) { return d; });
  g.selectAll("text.row").data(o.rows).enter().append("text").attr("class", "row")
    .attr("transform", function (d, i) { return "translate(" + (o.x1 + 2) + "," + (y(i) + y.bandwidth() / 2 + 2) + ") scale(1.25,1)"; })
    .attr("font-size", o.rowSize).text(function (d) { return d; });

  var topH = d3.scaleLinear().domain([0, 29]).range([o.y0, o.topEnd]);
  drawTree(svg.append("g"), o.treeTop, function (i) { return x(i) + x.bandwidth() / 2; }, topH, false);
  var leftH = d3.scaleLinear().domain([0, o.leftMax]).range([o.x0, o.leftEnd]);
  drawTree(svg.append("g"), o.treeLeft, function (i) { return y(i) + y.bandwidth() / 2; }, leftH, true);

  // color key
  var id = "grad" + o.id;
  var grad = defs.append("linearGradient").attr("id", id).attr("x1", 0).attr("x2", 0).attr("y1", 1).attr("y2", 0);
  heatStops.forEach(function (s, i) {
    grad.append("stop").attr("offset", (s / 10)).attr("stop-color", heatColors[i]);
  });
  var cy = d3.scaleLinear().domain([0, 1]).range([o.barY1, o.barY0]);
  svg.append("rect").attr("x", o.barX).attr("y", o.barY0).attr("width", 6).attr("height", o.barY1 - o.barY0)
    .attr("fill", "url(#" + id + ")").attr("stroke", "#333").attr("stroke-width", 0.5);
  svg.append("g").selectAll("text").data(colorbarTicks).enter().append("text")
    .attr("x", o.barX + 8.5).attr("y", function (d) { return cy(d) + 2.8; })
    .attr("font-size", 7.8).text(function (d) { return d; });
  plainText("Relative expression", o.barX - 4.5, (o.barY0 + o.barY1) / 2, 7.8, "middle", -90);
}

heatmap({
  id: "B", cols: colsB, rows: rowsB, values: heatB,
  x0: 288.3, x1: 553.3, y0: 39.3, y1: 209.3, colSize: 5.9, rowSize: 5.8,
  treeTop: treeBTop, treeLeft: treeBLeft, topEnd: 10, leftMax: 31, leftEnd: 257,
  barX: 578.3, barY0: 39.5, barY1: 117.5
});
heatmap({
  id: "F", cols: colsF, rows: rowsF, values: heatF,
  x0: 278.3, x1: 551.7, y0: 659, y1: 767.3, colSize: 6.1, rowSize: 5.4,
  treeTop: treeFTop, treeLeft: treeFLeft, topEnd: 630, leftMax: 30, leftEnd: 248,
  barX: 580, barY0: 661.7, barY1: 743.3
});

function bars(o) {
  var x = d3.scaleBand().domain(o.cats).range(o.xRange).paddingInner(o.pad).paddingOuter(o.pad / 2);
  var inner = d3.scaleBand().domain(d3.range(4)).range([0, x.bandwidth()]);
  var y = d3.scaleLinear().domain([0, o.yMax]).range([o.y0, o.yTop]);
  var g = svg.append("g");
  o.vals.forEach(function (vals, s) {
    var col = seriesColors[s];
    var sg = g.append("g");
    sg.selectAll("line.err").data(vals).enter().append("line").attr("class", "err")
      .attr("x1", function (d, i) { return x(o.cats[i]) + inner(s) + inner.bandwidth() / 2; })
      .attr("x2", function (d, i) { return x(o.cats[i]) + inner(s) + inner.bandwidth() / 2; })
      .attr("y1", function (d) { return y(d); })
      .attr("y2", function (d, i) { return y(o.errs[s][i]); })
      .attr("stroke", col).attr("stroke-width", o.errW);
    sg.selectAll("line.cap").data(vals).enter().append("line").attr("class", "cap")
      .attr("x1", function (d, i) { return x(o.cats[i]) + inner(s) + inner.bandwidth() * 0.22; })
      .attr("x2", function (d, i) { return x(o.cats[i]) + inner(s) + inner.bandwidth() * 0.78; })
      .attr("y1", function (d, i) { return y(o.errs[s][i]); })
      .attr("y2", function (d, i) { return y(o.errs[s][i]); })
      .attr("stroke", col).attr("stroke-width", o.errW);
    sg.selectAll("rect").data(vals).enter().append("rect")
      .attr("x", function (d, i) { return x(o.cats[i]) + inner(s); })
      .attr("y", function (d) { return y(d); })
      .attr("width", inner.bandwidth())
      .attr("height", function (d) { return o.y0 - y(d); })
      .attr("fill", col);
  });
  var ay = d3.axisLeft(y).tickValues(o.yTicks).tickSize(4).tickPadding(2).tickSizeOuter(0);
  var gy = svg.append("g").attr("transform", "translate(" + o.axisX + ",0)").call(ay);
  gy.selectAll("text").attr("font-size", o.yTickSize).attr("font-family", null);
  gy.selectAll(".domain, .tick line").attr("stroke-width", 1.2);
  var ax = d3.axisBottom(x).tickSize(3).tickPadding(o.xPad).tickSizeOuter(0);
  var gx = svg.append("g").attr("transform", "translate(0," + o.y0 + ")").call(ax);
  gx.selectAll(".domain").attr("d", "M" + o.axisX + ",0H" + o.axisEnd).attr("stroke-width", 1.2);
  gx.selectAll(".tick line").attr("stroke-width", 1);
  gx.selectAll("text").attr("font-size", o.xTickSize).attr("font-family", null);
  plainText("% of CD45<tspan dy='-3' font-size='6.5'>+</tspan><tspan dy='3'> cells</tspan>", o.yTitle[0], o.yTitle[1], o.yTitleSize, "middle", -90);
  // legend
  seriesNames.forEach(function (n, i) {
    var ly = o.legendY[i];
    svg.append("rect").attr("x", o.legendX).attr("y", ly - 3.4).attr("width", o.legendW).attr("height", 6.8)
      .attr("fill", seriesColors[i]);
    svg.append("text").attr("x", o.legendText).attr("y", ly + 3.2).attr("font-size", o.legendSize).text(n);
  });
  return gx;
}

bars({
  cats: catsC, vals: valsC, errs: errC, xRange: [54.5, 584.5], pad: 0.21, y0: 386, yTop: 273.3, yMax: 80,
  yTicks: [0, 20, 40, 60, 80], axisX: 55.8, axisEnd: 584.6, errW: 1, yTickSize: 10, xTickSize: 9.8, xPad: 3,
  yTitle: [30, 330], yTitleSize: 9.5,
  legendX: 469, legendW: 12.3, legendText: 489, legendY: [280.7, 296, 311.3, 326.7], legendSize: 9.6
});
sig(68.5, 93, 314.3, "*", 81.5, 309);
sig(67.3, 106.5, 296.7, "**", 87.7, 289);
sig(303.5, 327.7, 293.3, "*", 316, 288);
sig(302, 341.5, 276, "*", 321.5, 268);

bars({
  cats: catsD, vals: valsD, errs: errD, xRange: [54, 583.6], pad: 0.18, y0: 547.3, yTop: 430, yMax: 40,
  yTicks: [0, 10, 20, 30, 40], axisX: 55.8, axisEnd: 584, errW: 0.7, yTickSize: 10.5, xTickSize: 10, xPad: 3,
  yTitle: [27.5, 486], yTitleSize: 10,
  legendX: 471, legendW: 11.7, legendText: 489, legendY: [431, 444.3, 458.3, 471.7], legendSize: 9.6
});
sig(59.6, 70.8, 479.7, "*", 65.4, 472.7);
sig(59.6, 75.8, 460, "*", 67.7, 451.7);
sig(120, 131, 467.7, "*", 126, 461);
sig(120, 136, 448.3, "**", 128.8, 440);
sig(312.7, 325, 440.3, "**", 319, 432.7);
sig(375.8, 386, 512.7, "*", 381.5, 506);
sig(375.8, 391.5, 492.7, "**", 384.6, 486);

// group labels under panel D
hline(61.5, 69, 564, 1); hline(123, 132.7, 564, 1); hline(314.6, 324, 564, 1); hline(378, 387.7, 564, 1);
plainText("ex", 66, 572.5, 9.3); plainText("ef", 127.7, 572.5, 9.3);
hline(66, 150.8, 578.7, 1);
plainText("CD8 T", 107, 590.5, 9.6);
plainText("CD4 T", 162, 586, 9.6, "middle", -45);
plainText("B", 192, 577.5, 9.6); plainText("NK", 212.7, 577.5, 9.6);
hline(233.8, 280.8, 567.7, 1);
plainText("DC", 257, 580, 9.6);
plainText("PD-L1<tspan dy='-3' font-size='6'>+</tspan>", 320.8, 575, 9.3);
plainText("M2-like", 384.6, 575, 9.3);
hline(298, 406.5, 579.3, 1);
plainText("Macrophage", 348.5, 590, 9.6);
hline(423, 447, 568.3, 1);
plainText("MDSC", 433.8, 582.5, 9.6);
hline(465.8, 533.5, 568.3, 1);
plainText("Neutrophil", 496, 579, 9.6);
plainText("Eosinophil", 541, 590, 9.6, "middle", -45);
plainText("Others", 575.8, 577.5, 9.6);

var gxG = bars({
  cats: catsG, vals: valsG, errs: errG, xRange: [66.1, 588.6], pad: 0.18, y0: 940.7, yTop: 842.7, yMax: 15,
  yTicks: [0, 5, 10, 15], axisX: 66, axisEnd: 590, errW: 1, yTickSize: 10.5, xTickSize: 9.4, xPad: 3,
  yTitle: [41, 890], yTitleSize: 10,
  legendX: 467.3, legendW: 12.3, legendText: 485.8, legendY: [849, 862.3, 875.7, 889], legendSize: 9
});
gxG.selectAll(".tick text")
  .attr("text-anchor", "end").attr("dy", null).attr("y", 0)
  .attr("transform", "translate(4,12) rotate(-45)")
  .html(function (d) { return longLabelsG[d] || d; });

hline(71, 240, 832.7, 1.5, "#555");
hline(259.6, 339, 832.7, 1.5, "#555");
hline(352, 463, 832.7, 1.5, "#555");
hline(475.8, 495.8, 832.7, 1.5, "#555");
hline(507, 586.5, 832, 1.5, "#555");
plainText("CD8 T", 150.8, 830, 9.6);
plainText("CD4 T", 299, 830, 9.6);
plainText("DN T", 405.8, 830, 9.6);
plainText("B", 485.8, 829.5, 9.6);
plainText("NK", 545, 828, 9.6);
hline(72.3, 123, 845.3, 1, "#555");
hline(133.8, 153.8, 845, 1, "#555");
plainText("ex", 98, 843.5, 9);
plainText("ef", 143.8, 843.5, 9);
sig(71.5, 85, 909, "**", 78.8, 901.7);
sig(71.5, 91, 890.7, "**", 80.8, 884.3);
sig(104.6, 117.7, 875.7, "**", 111.5, 868.3);
sig(104.6, 124.6, 859, "*", 114.6, 853.3);
sig(132.7, 145.8, 878.3, "*", 138.5, 871);
sig(132.7, 152.3, 861.7, "**", 143, 855);
</script>
</body>
</html>
